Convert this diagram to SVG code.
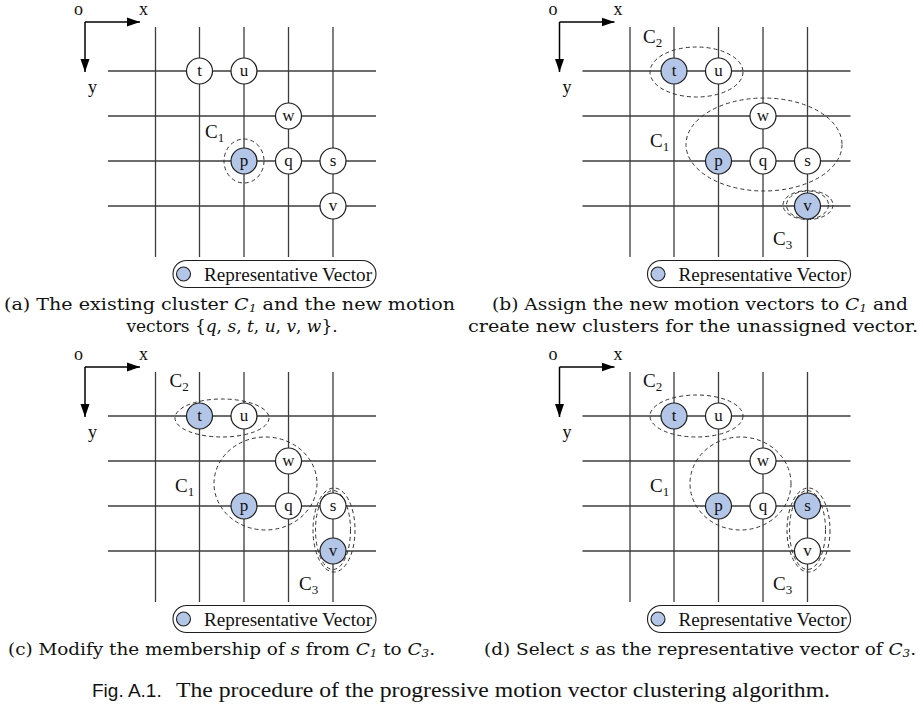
<svg xmlns="http://www.w3.org/2000/svg" width="923" height="714" viewBox="0 0 923 714">
<style>
.bg{fill:#fff}
.grid line{stroke:#3c3c3c;stroke-width:1.3}
.ax{stroke:#000;stroke-width:1.5;fill:none}
.node circle{fill:#fff;stroke:#1e1e1e;stroke-width:1.2}
.node.rep circle{fill:#b4c6e7}
.node text{font-family:"Liberation Serif",serif;font-size:17px;text-anchor:middle;fill:#111}
.clu{fill:none;stroke:#333;stroke-width:1;stroke-dasharray:4 3}
.lbl{font-family:"Liberation Serif",serif;font-size:18px;fill:#111}
.cl{font-family:"Liberation Serif",serif;font-size:19px;fill:#111}
.sub{font-size:13px}
.leg rect{fill:#fff;stroke:#1e1e1e;stroke-width:1.1}
.leg circle{fill:#b4c6e7;stroke:#1e1e1e;stroke-width:1.1}
.cap{font-family:"DejaVu Serif",serif;font-size:17px;fill:#111}
.it{font-style:italic}
.fig{font-family:"Liberation Sans",sans-serif;font-size:19px;fill:#111}
.figs{font-family:"Liberation Serif",serif;font-size:20px;fill:#111}
</style>
<defs>
<marker id="ah" markerWidth="14" markerHeight="10" refX="13" refY="5" orient="auto" markerUnits="userSpaceOnUse">
<path d="M0,0.5 L13,5 L0,9.5 Z" fill="#000"/>
</marker>
<g id="gridlines" class="grid" stroke="#3c3c3c" stroke-width="1.3">
<line x1="155.5" y1="27" x2="155.5" y2="257"/>
<line x1="199.5" y1="27" x2="199.5" y2="257"/>
<line x1="244" y1="27" x2="244" y2="257"/>
<line x1="288.5" y1="27" x2="288.5" y2="257"/>
<line x1="333" y1="27" x2="333" y2="257"/>
<line x1="108" y1="71" x2="376" y2="71"/>
<line x1="108" y1="116" x2="376" y2="116"/>
<line x1="108" y1="161" x2="376" y2="161"/>
<line x1="108" y1="206" x2="376" y2="206"/>
</g>
<g id="axes">
<path class="ax" d="M85,22 H140" marker-end="url(#ah)"/>
<path class="ax" d="M85,22 V72" marker-end="url(#ah)"/>
<text class="lbl" x="74" y="15">o</text>
<text class="lbl" x="139" y="15">x</text>
<text class="lbl" x="88" y="93">y</text>
</g>
<g id="legend" class="leg">
<rect x="173" y="260.5" width="203" height="27" rx="13.5"/>
<circle cx="183.5" cy="274" r="7"/>
<text class="lbl" x="204" y="281" textLength="168" lengthAdjust="spacingAndGlyphs">Representative Vector</text>
</g>
</defs>
<rect class="bg" width="923" height="714"/>

<!-- Panel (a) -->
<g id="panel-a">
<g id="a-connectors"><use href="#gridlines"/></g>
<use href="#axes"/>
<ellipse class="clu" cx="244" cy="161" rx="20" ry="22"/>
<text class="cl" x="205" y="138">C<tspan class="sub" dy="4">1</tspan></text>
<g id="a-t" class="node"><circle cx="199.5" cy="71" r="13"/><text x="199.5" y="76">t</text></g>
<g id="a-u" class="node"><circle cx="244" cy="71" r="13"/><text x="244" y="76">u</text></g>
<g id="a-w" class="node"><circle cx="288.5" cy="116" r="13"/><text x="288.5" y="121">w</text></g>
<g id="a-p" class="node rep"><circle cx="244" cy="161" r="13"/><text x="244" y="166">p</text></g>
<g id="a-q" class="node"><circle cx="288.5" cy="161" r="13"/><text x="288.5" y="166">q</text></g>
<g id="a-s" class="node"><circle cx="333" cy="161" r="13"/><text x="333" y="166">s</text></g>
<g id="a-v" class="node"><circle cx="333" cy="206" r="13"/><text x="333" y="211">v</text></g>
<use href="#legend"/>
</g>

<!-- Panel (b) -->
<g id="panel-b" transform="translate(474.5,0)">
<g id="b-connectors"><use href="#gridlines"/></g>
<use href="#axes"/>
<ellipse class="clu" cx="222" cy="72" rx="46.5" ry="25"/>
<ellipse class="clu" cx="289.5" cy="144.5" rx="78" ry="46.5"/>
<ellipse class="clu" cx="333.5" cy="205" rx="25" ry="14.5"/>
<ellipse class="clu" cx="333" cy="205" rx="21" ry="14"/>
<text class="cl" x="168.5" y="43">C<tspan class="sub" dy="4">2</tspan></text>
<text class="cl" x="175.5" y="147">C<tspan class="sub" dy="4">1</tspan></text>
<text class="cl" x="298.5" y="245">C<tspan class="sub" dy="4">3</tspan></text>
<g id="b-t" class="node rep"><circle cx="199.5" cy="71" r="13"/><text x="199.5" y="76">t</text></g>
<g id="b-u" class="node"><circle cx="244" cy="71" r="13"/><text x="244" y="76">u</text></g>
<g id="b-w" class="node"><circle cx="288.5" cy="116" r="13"/><text x="288.5" y="121">w</text></g>
<g id="b-p" class="node rep"><circle cx="244" cy="161" r="13"/><text x="244" y="166">p</text></g>
<g id="b-q" class="node"><circle cx="288.5" cy="161" r="13"/><text x="288.5" y="166">q</text></g>
<g id="b-s" class="node"><circle cx="333" cy="161" r="13"/><text x="333" y="166">s</text></g>
<g id="b-v" class="node rep"><circle cx="333" cy="206" r="13"/><text x="333" y="211">v</text></g>
<use href="#legend"/>
</g>

<!-- Panel (c) -->
<g id="panel-c" transform="translate(0,345)">
<g id="c-connectors"><use href="#gridlines"/></g>
<use href="#axes"/>
<ellipse class="clu" cx="222" cy="73" rx="47" ry="19"/>
<ellipse class="clu" cx="265.5" cy="138.5" rx="51.5" ry="46.5"/>
<ellipse class="clu" cx="334" cy="185" rx="21" ry="42"/>
<ellipse class="clu" cx="333" cy="185" rx="17.5" ry="39.5"/>
<text class="cl" x="169.5" y="42">C<tspan class="sub" dy="4">2</tspan></text>
<text class="cl" x="175" y="147">C<tspan class="sub" dy="4">1</tspan></text>
<text class="cl" x="299" y="245">C<tspan class="sub" dy="4">3</tspan></text>
<g id="c-t" class="node rep"><circle cx="199.5" cy="71" r="13"/><text x="199.5" y="76">t</text></g>
<g id="c-u" class="node"><circle cx="244" cy="71" r="13"/><text x="244" y="76">u</text></g>
<g id="c-w" class="node"><circle cx="288.5" cy="116" r="13"/><text x="288.5" y="121">w</text></g>
<g id="c-p" class="node rep"><circle cx="244" cy="161" r="13"/><text x="244" y="166">p</text></g>
<g id="c-q" class="node"><circle cx="288.5" cy="161" r="13"/><text x="288.5" y="166">q</text></g>
<g id="c-s" class="node"><circle cx="333" cy="161" r="13"/><text x="333" y="166">s</text></g>
<g id="c-v" class="node rep"><circle cx="333" cy="206" r="13"/><text x="333" y="211">v</text></g>
<use href="#legend"/>
</g>

<!-- Panel (d) -->
<g id="panel-d" transform="translate(474.5,345)">
<g id="d-connectors"><use href="#gridlines"/></g>
<use href="#axes"/>
<ellipse class="clu" cx="222" cy="71" rx="46.5" ry="21"/>
<ellipse class="clu" cx="266" cy="138.5" rx="50.5" ry="46.5"/>
<ellipse class="clu" cx="334" cy="185" rx="21.5" ry="42"/>
<ellipse class="clu" cx="333" cy="185" rx="18" ry="39.5"/>
<text class="cl" x="168.5" y="42">C<tspan class="sub" dy="4">2</tspan></text>
<text class="cl" x="175.5" y="147">C<tspan class="sub" dy="4">1</tspan></text>
<text class="cl" x="298.5" y="245">C<tspan class="sub" dy="4">3</tspan></text>
<g id="d-t" class="node rep"><circle cx="199.5" cy="71" r="13"/><text x="199.5" y="76">t</text></g>
<g id="d-u" class="node"><circle cx="244" cy="71" r="13"/><text x="244" y="76">u</text></g>
<g id="d-w" class="node"><circle cx="288.5" cy="116" r="13"/><text x="288.5" y="121">w</text></g>
<g id="d-p" class="node rep"><circle cx="244" cy="161" r="13"/><text x="244" y="166">p</text></g>
<g id="d-q" class="node"><circle cx="288.5" cy="161" r="13"/><text x="288.5" y="166">q</text></g>
<g id="d-s" class="node rep"><circle cx="333" cy="161" r="13"/><text x="333" y="166">s</text></g>
<g id="d-v" class="node"><circle cx="333" cy="206" r="13"/><text x="333" y="211">v</text></g>
<use href="#legend"/>
</g>

<!-- Captions -->
<g id="captions">
<text class="cap" x="4" y="310" textLength="451" lengthAdjust="spacingAndGlyphs">(a) The existing cluster <tspan class="it">C</tspan><tspan class="it" font-size="11" dy="2">1</tspan><tspan dy="-2"> and the new motion</tspan></text>
<text class="cap" x="232" y="332" text-anchor="middle">vectors {<tspan class="it">q</tspan>, <tspan class="it">s</tspan>, <tspan class="it">t</tspan>, <tspan class="it">u</tspan>, <tspan class="it">v</tspan>, <tspan class="it">w</tspan>}.</text>
<text class="cap" x="492" y="310" textLength="416" lengthAdjust="spacingAndGlyphs">(b) Assign the new motion vectors to <tspan class="it">C</tspan><tspan class="it" font-size="11" dy="2">1</tspan><tspan dy="-2"> and</tspan></text>
<text class="cap" x="468" y="332" textLength="450" lengthAdjust="spacingAndGlyphs">create new clusters for the unassigned vector.</text>
<text class="cap" x="8" y="655" textLength="427" lengthAdjust="spacingAndGlyphs">(c) Modify the membership of <tspan class="it">s</tspan> from <tspan class="it">C</tspan><tspan class="it" font-size="11" dy="2">1</tspan><tspan dy="-2"> to </tspan><tspan class="it">C</tspan><tspan class="it" font-size="11" dy="2">3</tspan><tspan dy="-2">.</tspan></text>
<text class="cap" x="484" y="655" textLength="432" lengthAdjust="spacingAndGlyphs">(d) Select <tspan class="it">s</tspan> as the representative vector of <tspan class="it">C</tspan><tspan class="it" font-size="11" dy="2">3</tspan><tspan dy="-2">.</tspan></text>
<text class="fig" x="92" y="697">Fig. A.1.</text>
<text class="figs" x="176" y="697" textLength="654" lengthAdjust="spacingAndGlyphs">The procedure of the progressive motion vector clustering algorithm.</text>
</g>
</svg>
